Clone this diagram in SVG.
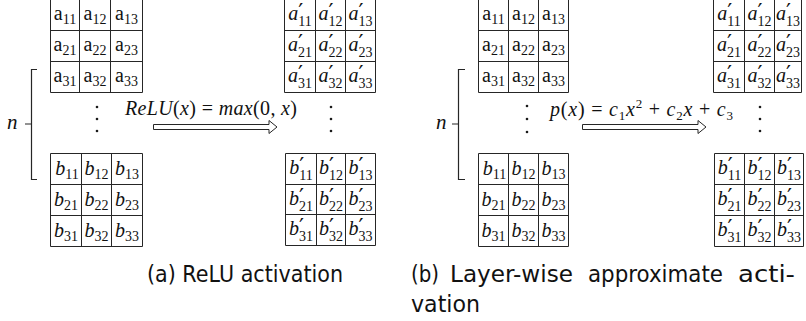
<svg xmlns="http://www.w3.org/2000/svg" width="806" height="321" viewBox="0 0 806 321">
  <style>
    .grid { fill: none; stroke: #262626; stroke-width: 1; }
    .line { fill: none; stroke: #262626; stroke-width: 1.2; }
    .arrow { fill: #ffffff; stroke: #262626; stroke-width: 1; stroke-linejoin: miter; }
    .dot { fill: #1a1a1a; }
    .ct { font-family: "Liberation Serif", "Times New Roman", serif; font-size: 20px; fill: #111; text-anchor: middle; }
    .it { font-style: italic; }
    .s { font-size: 14px; font-style: normal; }
    .pr { font-family: "DejaVu Sans", sans-serif; font-size: 22px; font-style: normal; }
    .m { font-family: "Liberation Serif", "Times New Roman", serif; font-size: 20px; fill: #111; }
    .mi { font-style: italic; }
    .ms { font-size: 13px; font-style: normal; }
    .lbl { font-family: "Liberation Serif", serif; font-size: 21px; font-style: italic; fill: #111; }
    .cap { font-family: "DejaVu Sans", "Liberation Sans", sans-serif; font-size: 23px; fill: #111; }
  </style>

  <!-- Panel (a): input layer matrices -->
  <g id="a-input-a">
    <path class="grid" d="M50.5,-0.5 H142.5 V92.5 H50.5 Z M79.5,-0.5 V92.5 M110.5,-0.5 V92.5 M50.5,30.5 H142.5 M50.5,61.5 H142.5"/>
    <text class="ct" x="65" y="19.5">a<tspan class="s" dy="4">11</tspan></text>
    <text class="ct" x="95" y="19.5">a<tspan class="s" dy="4">12</tspan></text>
    <text class="ct" x="126.5" y="19.5">a<tspan class="s" dy="4">13</tspan></text>
    <text class="ct" x="65" y="50.5">a<tspan class="s" dy="4">21</tspan></text>
    <text class="ct" x="95" y="50.5">a<tspan class="s" dy="4">22</tspan></text>
    <text class="ct" x="126.5" y="50.5">a<tspan class="s" dy="4">23</tspan></text>
    <text class="ct" x="65" y="81.5">a<tspan class="s" dy="4">31</tspan></text>
    <text class="ct" x="95" y="81.5">a<tspan class="s" dy="4">32</tspan></text>
    <text class="ct" x="126.5" y="81.5">a<tspan class="s" dy="4">33</tspan></text>
  </g>
  <g id="a-input-b">
    <path class="grid" d="M50.5,153.5 H142.5 V246.5 H50.5 Z M81.5,153.5 V246.5 M111.5,153.5 V246.5 M50.5,184.5 H142.5 M50.5,215.5 H142.5"/>
    <text class="ct it" x="67" y="175">b<tspan class="s" dy="4">11</tspan></text>
    <text class="ct it" x="96.5" y="175">b<tspan class="s" dy="4">12</tspan></text>
    <text class="ct it" x="127" y="175">b<tspan class="s" dy="4">13</tspan></text>
    <text class="ct it" x="66" y="206">b<tspan class="s" dy="4">21</tspan></text>
    <text class="ct it" x="96.5" y="206">b<tspan class="s" dy="4">22</tspan></text>
    <text class="ct it" x="127" y="206">b<tspan class="s" dy="4">23</tspan></text>
    <text class="ct it" x="66" y="237">b<tspan class="s" dy="4">31</tspan></text>
    <text class="ct it" x="96.5" y="237">b<tspan class="s" dy="4">32</tspan></text>
    <text class="ct it" x="127" y="237">b<tspan class="s" dy="4">33</tspan></text>
  </g>

  <!-- Panel (a): output matrices -->
  <g id="a-output-a">
    <path class="grid" d="M284.5,-0.5 H375.5 V92.5 H284.5 Z M315.5,-0.5 V92.5 M345.5,-0.5 V92.5 M284.5,30.5 H375.5 M284.5,61.5 H375.5"/>
    <text class="ct it" x="300" y="19.5">a<tspan class="pr" dy="-1">′</tspan><tspan class="s" dx="-5" dy="7">11</tspan></text>
    <text class="ct it" x="330.5" y="19.5">a<tspan class="pr" dy="-1">′</tspan><tspan class="s" dx="-5" dy="7">12</tspan></text>
    <text class="ct it" x="360.5" y="19.5">a<tspan class="pr" dy="-1">′</tspan><tspan class="s" dx="-5" dy="7">13</tspan></text>
    <text class="ct it" x="300" y="50.5">a<tspan class="pr" dy="-1">′</tspan><tspan class="s" dx="-5" dy="7">21</tspan></text>
    <text class="ct it" x="330.5" y="50.5">a<tspan class="pr" dy="-1">′</tspan><tspan class="s" dx="-5" dy="7">22</tspan></text>
    <text class="ct it" x="360.5" y="50.5">a<tspan class="pr" dy="-1">′</tspan><tspan class="s" dx="-5" dy="7">23</tspan></text>
    <text class="ct it" x="300" y="81.5">a<tspan class="pr" dy="-1">′</tspan><tspan class="s" dx="-5" dy="7">31</tspan></text>
    <text class="ct it" x="330.5" y="81.5">a<tspan class="pr" dy="-1">′</tspan><tspan class="s" dx="-5" dy="7">32</tspan></text>
    <text class="ct it" x="360.5" y="81.5">a<tspan class="pr" dy="-1">′</tspan><tspan class="s" dx="-5" dy="7">33</tspan></text>
  </g>
  <g id="a-output-b">
    <path class="grid" d="M285.5,153.5 H375.5 V245.5 H285.5 Z M316.5,153.5 V245.5 M345.5,153.5 V245.5 M285.5,184.5 H375.5 M285.5,214.5 H375.5"/>
    <text class="ct it" x="301" y="173.5">b<tspan class="pr" dy="-1">′</tspan><tspan class="s" dx="-5" dy="7">11</tspan></text>
    <text class="ct it" x="331" y="173.5">b<tspan class="pr" dy="-1">′</tspan><tspan class="s" dx="-5" dy="7">12</tspan></text>
    <text class="ct it" x="360.5" y="173.5">b<tspan class="pr" dy="-1">′</tspan><tspan class="s" dx="-5" dy="7">13</tspan></text>
    <text class="ct it" x="301" y="204.5">b<tspan class="pr" dy="-1">′</tspan><tspan class="s" dx="-5" dy="7">21</tspan></text>
    <text class="ct it" x="331" y="204.5">b<tspan class="pr" dy="-1">′</tspan><tspan class="s" dx="-5" dy="7">22</tspan></text>
    <text class="ct it" x="360.5" y="204.5">b<tspan class="pr" dy="-1">′</tspan><tspan class="s" dx="-5" dy="7">23</tspan></text>
    <text class="ct it" x="301" y="234.5">b<tspan class="pr" dy="-1">′</tspan><tspan class="s" dx="-5" dy="7">31</tspan></text>
    <text class="ct it" x="331" y="234.5">b<tspan class="pr" dy="-1">′</tspan><tspan class="s" dx="-5" dy="7">32</tspan></text>
    <text class="ct it" x="360.5" y="234.5">b<tspan class="pr" dy="-1">′</tspan><tspan class="s" dx="-5" dy="7">33</tspan></text>
  </g>

  <!-- Panel (b): input layer matrices -->
  <g id="b-input-a">
    <path class="grid" d="M478.5,-0.5 H568.5 V92.5 H478.5 Z M508.5,-0.5 V92.5 M538.5,-0.5 V92.5 M478.5,30.5 H568.5 M478.5,61.5 H568.5"/>
    <text class="ct" x="493.5" y="19.5">a<tspan class="s" dy="4">11</tspan></text>
    <text class="ct" x="523.5" y="19.5">a<tspan class="s" dy="4">12</tspan></text>
    <text class="ct" x="553.5" y="19.5">a<tspan class="s" dy="4">13</tspan></text>
    <text class="ct" x="493.5" y="50.5">a<tspan class="s" dy="4">21</tspan></text>
    <text class="ct" x="523.5" y="50.5">a<tspan class="s" dy="4">22</tspan></text>
    <text class="ct" x="553.5" y="50.5">a<tspan class="s" dy="4">23</tspan></text>
    <text class="ct" x="493.5" y="81.5">a<tspan class="s" dy="4">31</tspan></text>
    <text class="ct" x="523.5" y="81.5">a<tspan class="s" dy="4">32</tspan></text>
    <text class="ct" x="553.5" y="81.5">a<tspan class="s" dy="4">33</tspan></text>
  </g>
  <g id="b-input-b">
    <path class="grid" d="M478.5,153.5 H568.5 V246.5 H478.5 Z M508.5,153.5 V246.5 M538.5,153.5 V246.5 M478.5,184.5 H568.5 M478.5,215.5 H568.5"/>
    <text class="ct it" x="494.5" y="175">b<tspan class="s" dy="4">11</tspan></text>
    <text class="ct it" x="523.5" y="175">b<tspan class="s" dy="4">12</tspan></text>
    <text class="ct it" x="553.5" y="175">b<tspan class="s" dy="4">13</tspan></text>
    <text class="ct it" x="493.5" y="206">b<tspan class="s" dy="4">21</tspan></text>
    <text class="ct it" x="523.5" y="206">b<tspan class="s" dy="4">22</tspan></text>
    <text class="ct it" x="553.5" y="206">b<tspan class="s" dy="4">23</tspan></text>
    <text class="ct it" x="493.5" y="237">b<tspan class="s" dy="4">31</tspan></text>
    <text class="ct it" x="523.5" y="237">b<tspan class="s" dy="4">32</tspan></text>
    <text class="ct it" x="553.5" y="237">b<tspan class="s" dy="4">33</tspan></text>
  </g>

  <!-- Panel (b): output matrices -->
  <g id="b-output-a">
    <path class="grid" d="M713.5,-0.5 H801.5 V92.5 H713.5 Z M744.5,-0.5 V92.5 M774.5,-0.5 V92.5 M713.5,30.5 H801.5 M713.5,61.5 H801.5"/>
    <text class="ct it" x="729" y="19.5">a<tspan class="pr" dy="-1">′</tspan><tspan class="s" dx="-5" dy="7">11</tspan></text>
    <text class="ct it" x="759.5" y="19.5">a<tspan class="pr" dy="-1">′</tspan><tspan class="s" dx="-5" dy="7">12</tspan></text>
    <text class="ct it" x="788" y="19.5">a<tspan class="pr" dy="-1">′</tspan><tspan class="s" dx="-5" dy="7">13</tspan></text>
    <text class="ct it" x="729" y="50.5">a<tspan class="pr" dy="-1">′</tspan><tspan class="s" dx="-5" dy="7">21</tspan></text>
    <text class="ct it" x="759.5" y="50.5">a<tspan class="pr" dy="-1">′</tspan><tspan class="s" dx="-5" dy="7">22</tspan></text>
    <text class="ct it" x="788" y="50.5">a<tspan class="pr" dy="-1">′</tspan><tspan class="s" dx="-5" dy="7">23</tspan></text>
    <text class="ct it" x="729" y="81.5">a<tspan class="pr" dy="-1">′</tspan><tspan class="s" dx="-5" dy="7">31</tspan></text>
    <text class="ct it" x="759.5" y="81.5">a<tspan class="pr" dy="-1">′</tspan><tspan class="s" dx="-5" dy="7">32</tspan></text>
    <text class="ct it" x="788" y="81.5">a<tspan class="pr" dy="-1">′</tspan><tspan class="s" dx="-5" dy="7">33</tspan></text>
  </g>
  <g id="b-output-b">
    <path class="grid" d="M714.5,153.5 H803.5 V246.5 H714.5 Z M744.5,153.5 V246.5 M774.5,153.5 V246.5 M714.5,184.5 H803.5 M714.5,215.5 H803.5"/>
    <text class="ct it" x="729.5" y="173.5">b<tspan class="pr" dy="-1">′</tspan><tspan class="s" dx="-5" dy="7">11</tspan></text>
    <text class="ct it" x="759.5" y="173.5">b<tspan class="pr" dy="-1">′</tspan><tspan class="s" dx="-5" dy="7">12</tspan></text>
    <text class="ct it" x="789" y="173.5">b<tspan class="pr" dy="-1">′</tspan><tspan class="s" dx="-5" dy="7">13</tspan></text>
    <text class="ct it" x="729.5" y="204.5">b<tspan class="pr" dy="-1">′</tspan><tspan class="s" dx="-5" dy="7">21</tspan></text>
    <text class="ct it" x="759.5" y="204.5">b<tspan class="pr" dy="-1">′</tspan><tspan class="s" dx="-5" dy="7">22</tspan></text>
    <text class="ct it" x="789" y="204.5">b<tspan class="pr" dy="-1">′</tspan><tspan class="s" dx="-5" dy="7">23</tspan></text>
    <text class="ct it" x="729.5" y="235.5">b<tspan class="pr" dy="-1">′</tspan><tspan class="s" dx="-5" dy="7">31</tspan></text>
    <text class="ct it" x="759.5" y="235.5">b<tspan class="pr" dy="-1">′</tspan><tspan class="s" dx="-5" dy="7">32</tspan></text>
    <text class="ct it" x="789" y="235.5">b<tspan class="pr" dy="-1">′</tspan><tspan class="s" dx="-5" dy="7">33</tspan></text>
  </g>

  <!-- Vertical ellipses between the first and last matrices -->
  <g id="ellipses">
    <circle class="dot" cx="97" cy="107" r="1.3"/>
    <circle class="dot" cx="97" cy="119" r="1.3"/>
    <circle class="dot" cx="97" cy="131" r="1.3"/>
    <circle class="dot" cx="331" cy="107" r="1.3"/>
    <circle class="dot" cx="331" cy="119" r="1.3"/>
    <circle class="dot" cx="331" cy="131" r="1.3"/>
    <circle class="dot" cx="527" cy="106" r="1.3"/>
    <circle class="dot" cx="527" cy="119" r="1.3"/>
    <circle class="dot" cx="527" cy="132" r="1.3"/>
    <circle class="dot" cx="760" cy="107" r="1.3"/>
    <circle class="dot" cx="760" cy="119" r="1.3"/>
    <circle class="dot" cx="760" cy="131" r="1.3"/>
  </g>

  <!-- Count brackets labelled n -->
  <g id="count-a">
    <text class="lbl" x="7" y="129">n</text>
  </g>
  <g id="count-b">
    <text class="lbl" x="436" y="129">n</text>
  </g>

  <!-- Activation labels -->
  <g id="relu-label">
    <text class="m" x="125" y="115" textLength="172" lengthAdjust="spacing"><tspan class="mi">ReLU</tspan>(<tspan class="mi">x</tspan>) = <tspan class="mi">max</tspan>(0, <tspan class="mi">x</tspan>)</text>
  </g>
  <g id="poly-label">
    <text class="m" x="550" y="116" textLength="183" lengthAdjust="spacing"><tspan class="mi">p</tspan>(<tspan class="mi">x</tspan>) = <tspan class="mi">c</tspan><tspan class="ms" dy="4">1</tspan><tspan class="mi" dy="-4">x</tspan><tspan class="ms" dy="-8">2</tspan><tspan dy="8"> + </tspan><tspan class="mi">c</tspan><tspan class="ms" dy="4">2</tspan><tspan class="mi" dy="-4">x</tspan> + <tspan class="mi">c</tspan><tspan class="ms" dy="4">3</tspan></text>
  </g>

  <!-- Connectors: brackets and hollow arrows -->
  <g id="connectors">
    <path class="line" d="M37,69.5 H31.5 V179.5 H37 M25,124 H31.5"/>
    <path class="line" d="M465,69.5 H458.5 V179.5 H465 M452,124 H458.5"/>
    <polygon class="arrow" points="153.5,124.5 269,124.5 269,120.5 277,127 269,133.5 269,129.5 153.5,129.5"/>
    <polygon class="arrow" points="582.5,124.5 698,124.5 698,120.5 706,127 698,133.5 698,129.5 582.5,129.5"/>
  </g>

  <!-- Sub-figure captions -->
  <g id="captions">
    <text class="cap" x="147" y="282" textLength="196" lengthAdjust="spacingAndGlyphs">(a) ReLU activation</text>
    <text class="cap" x="411" y="282" textLength="28" lengthAdjust="spacingAndGlyphs">(b)</text>
    <text class="cap" x="450" y="282" textLength="123" lengthAdjust="spacingAndGlyphs">Layer-wise</text>
    <text class="cap" x="588" y="282" textLength="135" lengthAdjust="spacingAndGlyphs">approximate</text>
    <text class="cap" x="738" y="282" textLength="57" lengthAdjust="spacingAndGlyphs">acti-</text>
    <text class="cap" x="411" y="312" textLength="69" lengthAdjust="spacingAndGlyphs">vation</text>
  </g>
</svg>
